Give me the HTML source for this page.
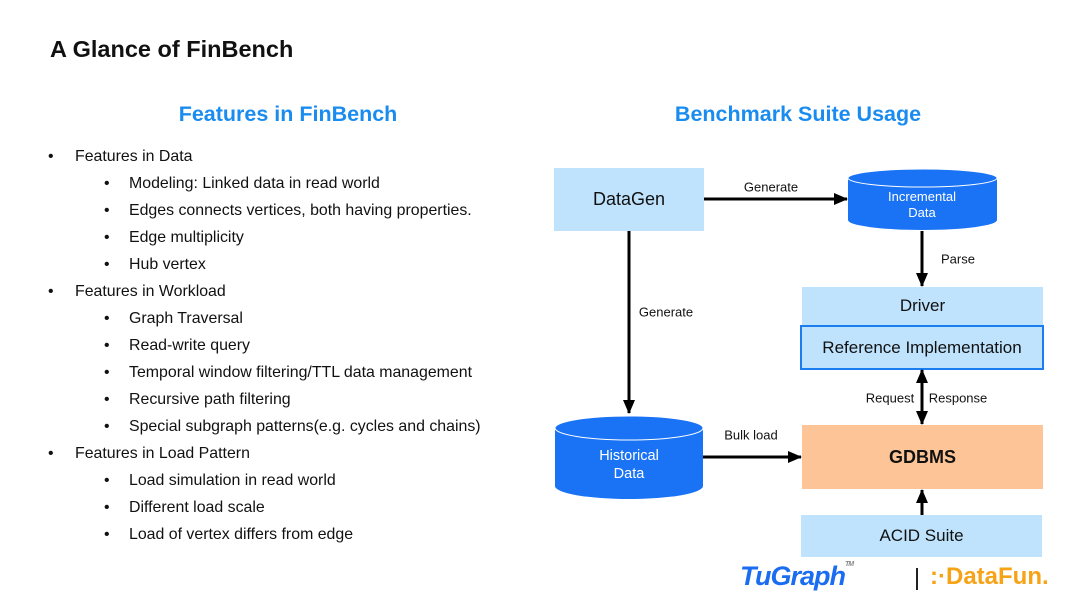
<!DOCTYPE html>
<html><head><meta charset="utf-8"><style>
body{margin:0;width:1080px;height:608px;background:#fff;font-family:"Liberation Sans","DejaVu Sans",sans-serif;position:relative;overflow:hidden;color:#111}
.a{position:absolute;white-space:nowrap}
.li{position:absolute;font-size:15.9px;white-space:nowrap;transform:translateY(-50%)}
.box{position:absolute;display:flex;align-items:center;justify-content:center;background:#bfe3fd;font-size:17px}
.lbl{position:absolute;font-size:13px;transform:translate(-50%,-50%);white-space:nowrap}
</style></head><body>
<div class="a" style="left:50px;top:36px;font-size:23.5px;font-weight:bold">A Glance of FinBench</div>
<div class="a" style="left:288px;top:102px;transform:translateX(-50%);font-size:21.5px;font-weight:bold;color:#1a8cf0">Features in FinBench</div>
<div class="a" style="left:798px;top:102px;transform:translateX(-50%);font-size:21.5px;font-weight:bold;color:#1a8cf0">Benchmark Suite Usage</div>

<div class="li" style="left:48px;top:157px">•</div><div class="li" style="left:75px;top:157px">Features in Data</div>
<div class="li" style="left:104px;top:184px">•</div><div class="li" style="left:129px;top:184px">Modeling: Linked data in read world</div>
<div class="li" style="left:104px;top:211px">•</div><div class="li" style="left:129px;top:211px">Edges connects vertices, both having properties.</div>
<div class="li" style="left:104px;top:238px">•</div><div class="li" style="left:129px;top:238px">Edge multiplicity</div>
<div class="li" style="left:104px;top:265px">•</div><div class="li" style="left:129px;top:265px">Hub vertex</div>
<div class="li" style="left:48px;top:292px">•</div><div class="li" style="left:75px;top:292px">Features in Workload</div>
<div class="li" style="left:104px;top:319px">•</div><div class="li" style="left:129px;top:319px">Graph Traversal</div>
<div class="li" style="left:104px;top:346px">•</div><div class="li" style="left:129px;top:346px">Read-write query</div>
<div class="li" style="left:104px;top:373px">•</div><div class="li" style="left:129px;top:373px">Temporal window filtering/TTL data management</div>
<div class="li" style="left:104px;top:400px">•</div><div class="li" style="left:129px;top:400px">Recursive path filtering</div>
<div class="li" style="left:104px;top:427px">•</div><div class="li" style="left:129px;top:427px">Special subgraph patterns(e.g. cycles and chains)</div>
<div class="li" style="left:48px;top:454px">•</div><div class="li" style="left:75px;top:454px">Features in Load Pattern</div>
<div class="li" style="left:104px;top:481px">•</div><div class="li" style="left:129px;top:481px">Load simulation in read world</div>
<div class="li" style="left:104px;top:508px">•</div><div class="li" style="left:129px;top:508px">Different load scale</div>
<div class="li" style="left:104px;top:535px">•</div><div class="li" style="left:129px;top:535px">Load of vertex differs from edge</div>

<div class="box" style="left:554px;top:168px;width:150px;height:63px;font-size:18px">DataGen</div>
<div class="box" style="left:802px;top:287px;width:241px;height:38px">Driver</div>
<div class="box" style="left:800px;top:325px;width:240px;height:41px;border:2px solid #1a7df0">Reference Implementation</div>
<div class="box" style="left:802px;top:425px;width:241px;height:64px;background:#fdc597;font-weight:bold;font-size:18px">GDBMS</div>
<div class="box" style="left:801px;top:515px;width:241px;height:42px">ACID Suite</div>

<svg width="1080" height="608" style="position:absolute;left:0;top:0">
<defs><marker id="m" markerWidth="14" markerHeight="12" refX="13" refY="6" orient="auto" markerUnits="userSpaceOnUse"><path d="M0,0 L14,6 L0,12 Z" fill="#000"/></marker>
<marker id="s" markerWidth="14" markerHeight="12" refX="1" refY="6" orient="auto" markerUnits="userSpaceOnUse"><path d="M14,0 L0,6 L14,12 Z" fill="#000"/></marker></defs>
<path d="M848,178 V220 A74.5,10 0 0 0 997,220 V178 Z" fill="#1a73f5"/>
<ellipse cx="922.5" cy="178" rx="74.5" ry="9" fill="#1a73f5" stroke="#fff" stroke-width="1"/>
<text x="922" y="201" text-anchor="middle" fill="#fff" font-size="13">Incremental</text>
<text x="922" y="217" text-anchor="middle" fill="#fff" font-size="13">Data</text>
<path d="M555,428 V486 A74,13 0 0 0 703,486 V428 Z" fill="#1a73f5"/>
<ellipse cx="629" cy="428" rx="74" ry="12" fill="#1a73f5" stroke="#fff" stroke-width="1"/>
<text x="629" y="460" text-anchor="middle" fill="#fff" font-size="14.5">Historical</text>
<text x="629" y="478" text-anchor="middle" fill="#fff" font-size="14.5">Data</text>
<g stroke="#000" stroke-width="3" fill="none">
<line x1="704" y1="199" x2="847" y2="199" marker-end="url(#m)"/>
<line x1="922" y1="231" x2="922" y2="286" marker-end="url(#m)"/>
<line x1="629" y1="231" x2="629" y2="413" marker-end="url(#m)"/>
<line x1="703" y1="457" x2="801" y2="457" marker-end="url(#m)"/>
<line x1="922" y1="370" x2="922" y2="424" marker-end="url(#m)" marker-start="url(#s)"/>
<line x1="922" y1="515" x2="922" y2="490" marker-end="url(#m)"/>
</g>
<line x1="917" y1="568" x2="917" y2="590" stroke="#222" stroke-width="2"/>
</svg>
<div class="lbl" style="left:771px;top:187px">Generate</div>
<div class="lbl" style="left:958px;top:259px">Parse</div>
<div class="lbl" style="left:666px;top:312px">Generate</div>
<div class="lbl" style="left:751px;top:435px">Bulk load</div>
<div class="lbl" style="left:890px;top:398px">Request</div>
<div class="lbl" style="left:958px;top:398px">Response</div>
<div class="a" style="left:740px;top:561px;font-size:27px;font-weight:bold;font-style:italic;color:#1a6cf0;letter-spacing:-1px">TuGraph<span style="font-size:7px;vertical-align:top;color:#888">TM</span></div>
<div class="a" style="left:930px;top:563px;font-size:24px;font-weight:bold;color:#f6a317">:·DataFun.</div>
</body></html>
